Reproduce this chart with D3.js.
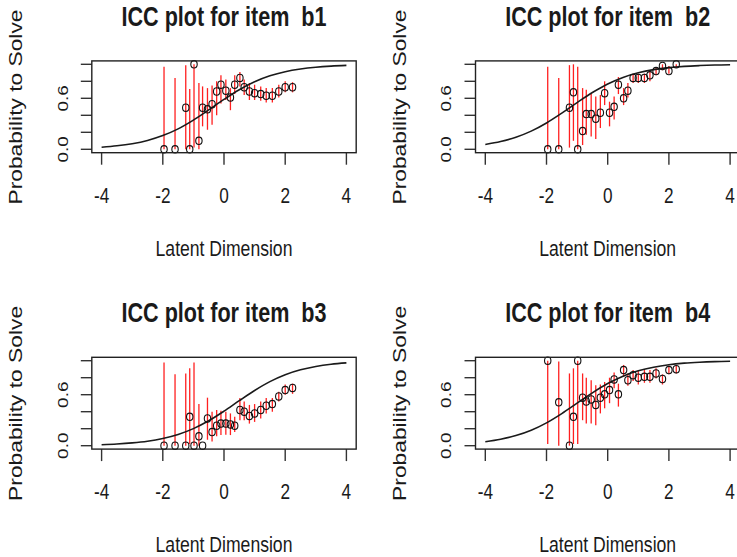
<!DOCTYPE html>
<html>
<head>
<meta charset="utf-8">
<script src="https://cdn.jsdelivr.net/npm/d3@7"></script>
<style>
  html, body { margin: 0; padding: 0; background: #fff; }
  svg { display: block; }
  text { font-family: "Liberation Sans", Arial, sans-serif; fill: #1a1a1a; white-space: pre; }
</style>
</head>
<body>
<svg id="chart" width="737" height="557"></svg>
<script>
// ---------- data ----------
const items = ["b1", "b2", "b3", "b4"];
const xTicks = [-4, -2, 0, 2, 4];
const yTicks = [0, 0.2, 0.4, 0.6, 0.8, 1.0];
const yTickLabels = [0, 0.6];

// person-parameter locations of the empirical points (shared by all items)
const thetaVals = [-1.96, -1.60, -1.25, -1.12, -0.98, -0.82, -0.70, -0.54, -0.39, -0.24, -0.10, 0.06,
                   0.21, 0.35, 0.52, 0.66, 0.83, 1.00, 1.20, 1.38, 1.58, 1.79, 2.00, 2.24];

const b1Obs = [0, 0, 0.49, 0, 1.0, 0.10, 0.49, 0.47, 0.53, 0.68, 0.76, 0.69, 0.61, 0.76, 0.84, 0.73, 0.68, 0.66, 0.65, 0.63, 0.63, 0.68, 0.73, 0.73];
const b1Lo  = [0, 0, 0, 0, 0.02, 0, 0.27, 0.23, 0.29, 0.40, 0.54, 0.58, 0.46, 0.65, 0.74, 0.64, 0.58, 0.58, 0.57, 0.55, 0.55, 0.61, 0.67, 0.67];
const b1Hi  = [0.97, 0.84, 0.99, 0.71, 1.0, 0.78, 0.74, 0.72, 0.75, 0.80, 0.87, 0.82, 0.72, 0.87, 0.91, 0.82, 0.78, 0.76, 0.74, 0.72, 0.72, 0.76, 0.80, 0.79];

const b2Obs = [0, 0, 0.49, 0.67, 0, 0.215, 0.415, 0.415, 0.36, 0.43, 0.66, 0.43, 0.50, 0.76, 0.60, 0.69, 0.84, 0.84, 0.84, 0.87, 0.92, 0.98, 0.92, 1.0];
const b2Lo  = [0, 0, 0.02, 0.10, 0, 0.05, 0.17, 0.15, 0.12, 0.25, 0.52, 0.27, 0.35, 0.65, 0.52, 0.61, 0.78, 0.78, 0.78, 0.80, 0.87, 0.93, 0.89, 0.96];
const b2Hi  = [0.97, 0.84, 0.99, 1.0, 0.97, 0.72, 0.70, 0.65, 0.62, 0.64, 0.80, 0.56, 0.62, 0.85, 0.72, 0.78, 0.89, 0.89, 0.89, 0.92, 0.96, 1.0, 0.98, 1.0];

const b3Obs = [0, 0, 0, 0.34, 0, 0.11, 0, 0.32, 0.16, 0.235, 0.26, 0.26, 0.25, 0.235, 0.42, 0.40, 0.35, 0.38, 0.42, 0.47, 0.49, 0.58, 0.655, 0.68];
const b3Lo  = [0, 0, 0, 0.02, 0, 0, 0, 0.07, 0.05, 0.11, 0.125, 0.13, 0.125, 0.16, 0.30, 0.30, 0.26, 0.28, 0.32, 0.38, 0.40, 0.52, 0.60, 0.61];
const b3Hi  = [0.98, 0.84, 0.85, 0.91, 0.98, 0.49, 0, 0.565, 0.40, 0.42, 0.41, 0.40, 0.38, 0.34, 0.56, 0.52, 0.48, 0.49, 0.52, 0.56, 0.56, 0.635, 0.72, 0.73];

const b4Obs = [1.0, 0.51, 0, 0.34, 1.0, 0.565, 0.52, 0.545, 0.48, 0.565, 0.605, 0.655, 0.78, 0.605, 0.89, 0.77, 0.83, 0.80, 0.81, 0.81, 0.85, 0.785, 0.89, 0.90];
const b4Lo  = [0.02, 0, 0, 0.02, 0.02, 0.30, 0.26, 0.26, 0.24, 0.38, 0.44, 0.50, 0.675, 0.46, 0.81, 0.705, 0.76, 0.72, 0.74, 0.74, 0.79, 0.72, 0.84, 0.85];
const b4Hi  = [1.0, 0.99, 0.85, 0.91, 1.0, 0.85, 0.80, 0.77, 0.71, 0.72, 0.75, 0.80, 0.86, 0.73, 0.95, 0.85, 0.89, 0.88, 0.89, 0.89, 0.91, 0.84, 0.94, 0.95];

// model ICC curves, read at these latent positions
const curveX  = [-4, -3.5, -3, -2.5, -2, -1.5, -1, -0.5, 0, 0.5, 1, 1.5, 2, 2.5, 3, 3.5, 4];
const b1Curve = [0.025, 0.041, 0.066, 0.104, 0.161, 0.240, 0.343, 0.463, 0.587, 0.701, 0.794, 0.864, 0.913, 0.945, 0.966, 0.979, 0.987];
const b2Curve = [0.057, 0.091, 0.142, 0.214, 0.310, 0.426, 0.550, 0.668, 0.769, 0.846, 0.900, 0.937, 0.961, 0.976, 0.985, 0.991, 0.994];
const b3Curve = [0.012, 0.020, 0.033, 0.053, 0.085, 0.132, 0.201, 0.293, 0.406, 0.530, 0.650, 0.754, 0.835, 0.893, 0.932, 0.958, 0.974];
const b4Curve = [0.047, 0.076, 0.119, 0.182, 0.269, 0.378, 0.500, 0.622, 0.731, 0.818, 0.881, 0.924, 0.953, 0.971, 0.982, 0.989, 0.993];

const panels = [
  { item: items[0], obs: b1Obs, lo: b1Lo, hi: b1Hi, curve: b1Curve, col: 0, row: 0 },
  { item: items[1], obs: b2Obs, lo: b2Lo, hi: b2Hi, curve: b2Curve, col: 1, row: 0 },
  { item: items[2], obs: b3Obs, lo: b3Lo, hi: b3Hi, curve: b3Curve, col: 0, row: 1 },
  { item: items[3], obs: b4Obs, lo: b4Lo, hi: b4Hi, curve: b4Curve, col: 1, row: 1 }
];

// ---------- layout ----------
const colOffset = 383.7, rowOffset = 296.4;
const SX = 0.8; // horizontal squeeze of the reference image
const svg = d3.select("#chart");

const x = d3.scaleLinear().domain([-4, 4]).range([101.6, 346.4]);
const y = d3.scaleLinear().domain([0, 1]).range([149.3, 64.3]);

const boxL = x(-4.32), boxR = x(4.32), boxT = y(1.04), boxB = y(-0.04);

panels.forEach(p => {
  const g = svg.append("g")
    .attr("transform", `translate(${p.col * colOffset},${p.row * rowOffset})`);

  // title
  g.append("text")
    .attr("transform", `translate(224,26) scale(${SX},1)`)
    .attr("text-anchor", "middle")
    .attr("font-weight", "bold")
    .attr("font-size", 27)
    .text(`ICC plot for item  ${p.item}`);

  // axis labels
  g.append("text")
    .attr("transform", `translate(224,255.5) scale(${SX},1)`)
    .attr("text-anchor", "middle")
    .attr("font-size", 22)
    .text("Latent Dimension");

  g.append("text")
    .attr("transform", `translate(22,107) scale(${SX},1) rotate(-90)`)
    .attr("text-anchor", "middle")
    .attr("font-size", 22.8)
    .text("Probability to Solve");

  // x axis ticks
  g.selectAll(".xt").data(xTicks).enter().append("line")
    .attr("x1", d => x(d)).attr("x2", d => x(d))
    .attr("y1", boxB).attr("y2", boxB + 12)
    .attr("stroke", "#333").attr("stroke-width", 1.4);
  g.selectAll(".xl").data(xTicks).enter().append("text")
    .attr("transform", d => `translate(${x(d)},203) scale(${SX},1)`)
    .attr("text-anchor", "middle")
    .attr("font-size", 21.5)
    .text(d => d);

  // y axis ticks
  g.selectAll(".yt").data(yTicks).enter().append("line")
    .attr("x1", boxL - 11).attr("x2", boxL)
    .attr("y1", d => y(d)).attr("y2", d => y(d))
    .attr("stroke", "#333").attr("stroke-width", 1.4);
  g.selectAll(".yl").data(yTickLabels).enter().append("text")
    .attr("transform", d => `translate(67.5,${y(d)}) scale(${SX},1) rotate(-90)`)
    .attr("text-anchor", "middle")
    .attr("font-size", 19)
    .text(d => d3.format(".1f")(d));

  // error bars
  g.selectAll(".eb").data(thetaVals).enter().append("line")
    .attr("x1", d => x(d)).attr("x2", d => x(d))
    .attr("y1", (d, i) => y(p.lo[i])).attr("y2", (d, i) => y(p.hi[i]))
    .attr("stroke", "#ff2020").attr("stroke-width", 1.3);

  // model curve
  const line = d3.line()
    .x(d => x(d[0])).y(d => y(d[1]))
    .curve(d3.curveCatmullRom);
  g.append("path")
    .datum(curveX.map((v, i) => [v, p.curve[i]]))
    .attr("d", line)
    .attr("fill", "none")
    .attr("stroke", "#1a1a1a")
    .attr("stroke-width", 1.6);

  // empirical points
  g.selectAll(".pt").data(thetaVals).enter().append("ellipse")
    .attr("cx", d => x(d)).attr("cy", (d, i) => y(p.obs[i]))
    .attr("rx", 3.2).attr("ry", 3.7)
    .attr("fill", "none")
    .attr("stroke", "#111").attr("stroke-width", 1.1);

  // box
  g.append("rect")
    .attr("x", boxL).attr("y", boxT)
    .attr("width", boxR - boxL).attr("height", boxB - boxT)
    .attr("fill", "none").attr("stroke", "#222").attr("stroke-width", 1.4);
});
</script>
</body>
</html>
